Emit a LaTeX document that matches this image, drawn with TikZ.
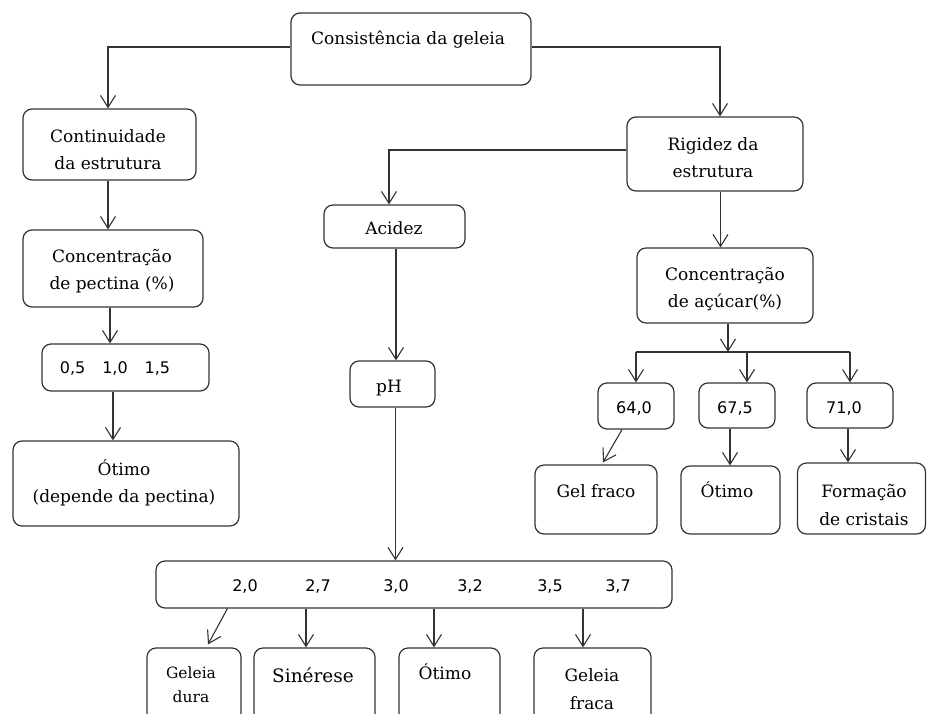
\documentclass[tikz,border=0pt]{standalone}
\usepackage{fontspec}
\setmainfont{DejaVu Serif}
\newfontfamily\numfont{DejaVu Sans}
\usetikzlibrary{arrows.meta}
\definecolor{linec}{HTML}{333333}
\begin{document}
\begin{tikzpicture}[x=1pt,y=-1pt,
  box/.style={draw=linec, line width=1.2pt, rounded corners=9pt, inner sep=0pt, fill=white},
  arr/.style={draw=linec, line width=1.1pt, -{Straight Barb[length=12pt,width=15pt,line width=1.1pt]}},
  ln/.style={draw=linec, line width=1.1pt},
  txt/.style={font=\fontsize{17}{27.5}\selectfont, align=center, inner sep=0pt, text=black},
  stxt/.style={font=\fontsize{15.5}{24}\selectfont, align=center, inner sep=0pt, text=black},
  num/.style={font=\numfont\fontsize{16}{20}\selectfont, inner sep=0pt, anchor=base, text=black}]
\useasboundingbox (0,0) rectangle (927,713);
\clip (0,0) rectangle (927,713);
\fill[white] (0,0) rectangle (927,713);

% boxes
\node[box, minimum width=240pt, minimum height=72pt] (top) at (411,49) {};
\node[box, minimum width=173pt, minimum height=71pt] (cont) at (109.5,144.5) {};
\node[box, minimum width=180pt, minimum height=77pt] (pect) at (113,268.5) {};
\node[box, minimum width=167pt, minimum height=47pt] (pv) at (125.5,367.5) {};
\node[box, minimum width=226pt, minimum height=85pt] (ot1) at (126,483.5) {};
\node[box, minimum width=141pt, minimum height=43pt] (acid) at (394.5,226.5) {};
\node[box, minimum width=85pt, minimum height=46pt] (ph) at (392.5,384) {};
\node[box, minimum width=176pt, minimum height=74pt] (rig) at (715,154) {};
\node[box, minimum width=176pt, minimum height=75pt] (acu) at (725,285.5) {};
\node[box, minimum width=76pt, minimum height=46pt] (v64) at (636,406) {};
\node[box, minimum width=76pt, minimum height=45pt] (v675) at (737,405.5) {};
\node[box, minimum width=86pt, minimum height=45pt] (v71) at (850,405.5) {};
\node[box, minimum width=122pt, minimum height=69pt] (gf) at (596,499.5) {};
\node[box, minimum width=99pt, minimum height=68pt] (ot2) at (730.5,500) {};
\node[box, minimum width=128pt, minimum height=71pt] (form) at (861.5,498.5) {};
\node[box, minimum width=516pt, minimum height=47pt] (rng) at (414,584.5) {};
\node[box, minimum width=94pt, minimum height=82pt] (gd) at (194,689) {};
\node[box, minimum width=121pt, minimum height=82pt] (sin) at (314.5,689) {};
\node[box, minimum width=101pt, minimum height=82pt] (ot3) at (449.5,689) {};
\node[box, minimum width=117pt, minimum height=82pt] (gfr) at (592.5,689) {};

% texts
\node[txt, anchor=base] (ttop) at (408,44) {Consistência da geleia};
\node[txt] (tcont) at (108,149.5) {Continuidade\\da estrutura};
\node[txt] (tpect) at (112,271) {Concentração\\de pectina (\%)};
\node[num] (tpv) at (115,373) {0,5\hspace{17pt}1,0\hspace{17pt}1,5};
\node[txt] (tot1) at (124,483) {Ótimo\\(depende da pectina)};
\node[txt, anchor=base] (tacid) at (394,234) {Acidez};
\node[txt, anchor=base] (tph) at (389,392) {pH};
\node[txt] (trig) at (713,157.5) {Rigidez da\\estrutura};
\node[txt] (tacu) at (725,289) {Concentração\\de açúcar(\%)};
\node[num] (t64) at (634,413) {64,0};
\node[num] (t675) at (735,413) {67,5};
\node[num] (t71) at (844,413) {71,0};
\node[txt, anchor=base] (tgf) at (596,497) {Gel fraco};
\node[txt, anchor=base] (tot2) at (727,497) {Ótimo};
\node[txt] (tform) at (864,505) {Formação\\de cristais};
\node[num] (r1) at (245,591) {2,0};
\node[num] (r2) at (318,591) {2,7};
\node[num] (r3) at (396,591) {3,0};
\node[num] (r4) at (470,591) {3,2};
\node[num] (r5) at (550,591) {3,5};
\node[num] (r6) at (618,591) {3,7};
\node[stxt] (tgd) at (191,685) {Geleia\\dura};
\node[txt, font=\fontsize{18.5}{24}\selectfont, anchor=base] (tsin) at (313,682) {Sinérese};
\node[txt, anchor=base] (tot3) at (445,679) {Ótimo};
\node[txt, font=\fontsize{17}{28}\selectfont] (tgfr) at (592,689) {Geleia\\fraca};

% connectors
\draw[arr] ([yshift=2pt]top.west) -| ([xshift=-1.5pt]cont.north);
\draw[arr] ([yshift=2pt]top.east) -| ([xshift=5pt]rig.north);
\draw[arr] ([xshift=-1.5pt]cont.south) -- ([xshift=-1.5pt]cont.south |- pect.north);
\draw[arr] ([xshift=-3pt]pect.south) -- ([xshift=-3pt]pect.south |- pv.north);
\draw[arr] ([xshift=-12.5pt]pv.south) -- ([xshift=-12.5pt]pv.south |- ot1.north);
\draw[arr] ([yshift=4pt]rig.west) -| ([xshift=-5.5pt]acid.north);
\draw[arr] ([xshift=1.5pt]acid.south) -- ([xshift=1.5pt]acid.south |- ph.north);
\draw[arr] ([xshift=3pt]ph.south) -- ([xshift=3pt]ph.south |- rng.north);
\draw[arr] ([xshift=5.5pt]rig.south) -- ([xshift=5.5pt]rig.south |- acu.north);
\coordinate (jn) at (728,352);
\draw[arr] (acu.south -| jn) -- (jn);
\draw[ln] (v64.north |- jn) -- (v71.north |- jn);
\draw[arr] (v64.north |- jn) -- (v64.north);
\draw[arr] ([xshift=10pt]v675.north |- jn) -- ([xshift=10pt]v675.north);
\draw[arr] (v71.north |- jn) -- (v71.north);
\draw[arr] ([xshift=-14pt]v64.south) -- ([xshift=7pt,yshift=2pt]gf.north);
\draw[arr] ([xshift=-7pt]v675.south) -- ([xshift=-7pt]v675.south |- ot2.north);
\draw[arr] ([xshift=-2pt]v71.south) -- ([xshift=-2pt]v71.south |- form.north);
\draw[arr] ([xshift=72pt]rng.south west) -- ([xshift=14pt,yshift=3pt]gd.north);
\draw[arr] ([xshift=-8.5pt]sin.north |- rng.south) -- ([xshift=-8.5pt]sin.north);
\draw[arr] ([xshift=-15.5pt]ot3.north |- rng.south) -- ([xshift=-15.5pt]ot3.north);
\draw[arr] ([xshift=-9.5pt]gfr.north |- rng.south) -- ([xshift=-9.5pt]gfr.north);
\end{tikzpicture}
\end{document}
